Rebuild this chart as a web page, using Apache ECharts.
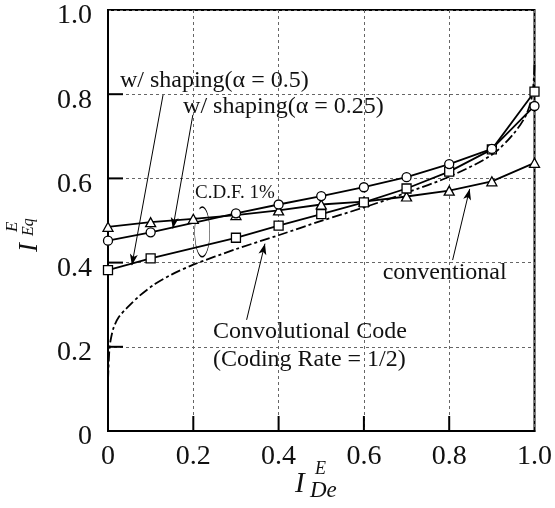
<!DOCTYPE html>
<html>
<head>
<meta charset="utf-8">
<style>
  html, body { margin: 0; padding: 0; background: #fff; }
  #chart { width: 555px; height: 508px; }
</style>
<script src="https://cdn.jsdelivr.net/npm/echarts@6/dist/echarts.min.js"></script>
</head>
<body>
<div id="chart"></div>
<script>
// tick values (both axes)
const ticks = [0.2, 0.4, 0.6, 0.8]
// x positions of the marked points
const xs = [0, 0.1, 0.2, 0.3, 0.4, 0.5, 0.6, 0.7, 0.8, 0.9, 1.0]
// null = no marker drawn at that x
const conventional = [0.485, 0.496, 0.504, 0.513, 0.524, 0.538, 0.545, 0.557, 0.571, 0.593, 0.637]
const shaping050 = [0.382, 0.410, null, 0.459, 0.488, 0.515, 0.543, 0.576, 0.616, 0.669, 0.806]
const shaping025 = [0.452, 0.472, null, 0.517, 0.538, 0.558, 0.579, 0.603, 0.634, 0.670, 0.772]
// convolutional code curve, [x, y]
const convCode = [
  [0, 0.12], [0.003, 0.19], [0.006, 0.215], [0.013, 0.245], [0.025, 0.27],
  [0.045, 0.293], [0.075, 0.322], [0.11, 0.349], [0.15, 0.372], [0.2, 0.395],
  [0.3, 0.432], [0.4, 0.465], [0.5, 0.499], [0.6, 0.531], [0.7, 0.566],
  [0.8, 0.604], [0.9, 0.656], [0.95, 0.705], [0.98, 0.75], [0.995, 0.8], [1.0, 0.87]
]

// annotations (data coordinates)
const notes = [
  { text: 'w/ shaping(α = 0.5)', at: [0.028, 0.831], size: 24 },
  { text: 'w/ shaping(α = 0.25)', at: [0.176, 0.770], size: 24 },
  { text: 'C.D.F. 1%', at: [0.204, 0.565], size: 19 },
  { text: 'conventional', at: [0.644, 0.375], size: 24 },
  { text: 'Convolutional Code', at: [0.246, 0.235], size: 24 },
  { text: '(Coding Rate = 1/2)', at: [0.246, 0.169], size: 24 }
]
const arrows = [
  [[0.129, 0.798], [0.056, 0.394]],
  [[0.199, 0.751], [0.152, 0.481]],
  [[0.808, 0.406], [0.848, 0.575]],
  [[0.325, 0.264], [0.368, 0.445]]
]

const font = 'Liberation Serif'
const pairs = ys => xs.map((x, i) => [x, ys[i] === null ? '-' : ys[i]])
const tickText = v => (v === 0 ? '0' : v.toFixed(1))

const axisCommon = {
  type: 'value',
  min: 0,
  max: 1,
  interval: 0.2,
  axisLine: { show: true, lineStyle: { color: '#000', width: 2 } },
  axisTick: { show: false },
  splitLine: { show: true, lineStyle: { color: '#666', width: 1, type: [3, 3] } },
  axisLabel: { fontFamily: font, fontSize: 28, color: '#111' }
}

const markerLine = {
  type: 'line',
  connectNulls: true,
  showAllSymbol: true,
  symbolSize: 9,
  lineStyle: { color: '#000', width: 1.8 },
  itemStyle: { color: '#fff', borderColor: '#000', borderWidth: 1.3 },
  z: 3
}

const chart = echarts.init(document.getElementById('chart'))
chart.setOption({
  animation: false,
  grid: { left: 108, top: 10, right: 20, bottom: 77, show: true, borderColor: '#000', borderWidth: 2 },
  xAxis: Object.assign({}, axisCommon, {
    axisLabel: Object.assign({}, axisCommon.axisLabel, { margin: 12, formatter: tickText })
  }),
  yAxis: Object.assign({}, axisCommon, {
    axisLabel: Object.assign({}, axisCommon.axisLabel, {
      margin: 16,
      formatter: v => '{t|' + tickText(v) + '}',
      rich: { t: { fontFamily: font, fontSize: 28, color: '#111', padding: [12, 0, 0, 0] } }
    })
  }),
  series: [
    {
      type: 'line',
      name: 'Convolutional Code',
      data: convCode,
      symbol: 'none',
      smooth: 0.3,
      lineStyle: { color: '#000', width: 1.8, type: [10, 3, 3, 3] },
      z: 2,
      markLine: {
        silent: true,
        symbol: ['none', 'arrow'],
        symbolSize: [6, 11],
        lineStyle: { color: '#000', width: 1, type: 'solid' },
        label: { show: false },
        data: arrows.map(a => [{ coord: a[0] }, { coord: a[1] }])
      }
    },
    Object.assign({}, markerLine, { name: 'conventional', data: pairs(conventional), symbol: 'triangle', symbolSize: [10, 9] }),
    Object.assign({}, markerLine, { name: 'alpha 0.5', data: pairs(shaping050), symbol: 'rect', symbolSize: 9 }),
    Object.assign({}, markerLine, { name: 'alpha 0.25', data: pairs(shaping025), symbol: 'circle', symbolSize: 9 })
  ]
})

const px = p => chart.convertToPixel({ gridIndex: 0 }, p)
const txt = (text, x, y, size, italic) => ({
  type: 'text', x, y,
  style: { text, fontFamily: font, fontSize: size, fontStyle: italic ? 'italic' : 'normal', fill: '#111', align: 'left', verticalAlign: 'middle' }
})

const graphics = notes.map(n => {
  const p = px(n.at)
  return txt(n.text, p[0], p[1], n.size, false)
})

// inward tick marks on the left and bottom axes
const tickStyle = { stroke: '#000', lineWidth: 2 }
ticks.forEach(t => {
  const b = px([t, 0])
  graphics.push({ type: 'line', shape: { x1: b[0], y1: b[1], x2: b[0], y2: b[1] - 15 }, style: tickStyle, z: 5 })
  const l = px([0, t])
  graphics.push({ type: 'line', shape: { x1: l[0], y1: l[1], x2: l[0] + 15, y2: l[1] }, style: tickStyle, z: 5 })
})

// C.D.F. loop
const loopC = px([0.221, 0.473])
const loopTop = px([0.221, 0.532])
const loopSide = px([0.2386, 0.473])
const ry = loopC[1] - loopTop[1]
const rx = loopSide[0] - loopC[0]
graphics.push({
  type: 'arc',
  x: loopC[0], y: loopC[1],
  scaleX: rx / ry,
  shape: { cx: 0, cy: 0, r: ry, startAngle: -Math.PI * 0.62, endAngle: Math.PI * 1.2, clockwise: true },
  style: { stroke: '#000', lineWidth: 1.6, fill: null, strokeNoScale: true }
})

// axis names
graphics.push({
  type: 'group', x: 292, y: 475,
  children: [txt('I', 3, 9.5, 29, true), txt('E', 23, -5.5, 18, true), txt('De', 18, 16, 23, true)]
})
graphics.push({
  type: 'group', x: 21.7, y: 252, rotation: Math.PI / 2,
  children: [txt('I', 0, 8.3, 27, true), txt('E', 20, -8.7, 17, true), txt('Eq', 16, 7.3, 16, true)]
})

chart.setOption({ graphic: graphics })
</script>
</body>
</html>
